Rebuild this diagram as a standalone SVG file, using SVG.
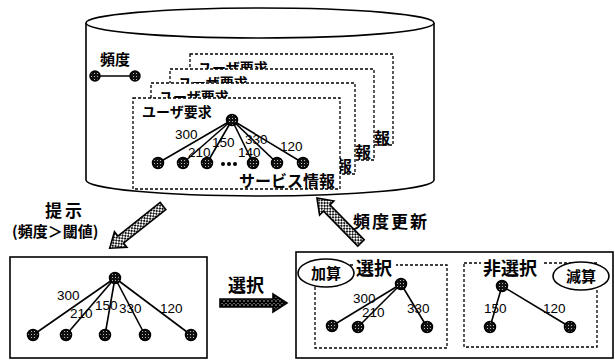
<svg xmlns="http://www.w3.org/2000/svg" width="615" height="360" viewBox="0 0 615 360">
<defs>
<pattern id="stip" width="3" height="3" patternUnits="userSpaceOnUse"><rect width="3" height="3" fill="#111"/><rect x="1" y="1" width="1" height="1" fill="#bbb"/></pattern>
<pattern id="hatch" width="4" height="4" patternUnits="userSpaceOnUse"><rect width="4" height="4" fill="#fff"/><path d="M0,0 L4,4 M4,0 L0,4" stroke="#000" stroke-width="0.9"/></pattern>
<pattern id="hatch2" width="4" height="4" patternUnits="userSpaceOnUse"><rect width="4" height="4" fill="#fff"/><path d="M0,0 L4,4 M4,0 L0,4" stroke="#000" stroke-width="1.6"/></pattern>
</defs>
<style>
.jp{font-family:"Noto Sans CJK JP","Noto Sans",sans-serif;font-weight:bold;fill:#000}
.num{font-family:"Liberation Sans",Arial,sans-serif;font-size:13.5px;fill:#000}
.dash{fill:#fff;stroke:#000;stroke-width:1.3;stroke-dasharray:3,2}
.solid{fill:#fff;stroke:#000;stroke-width:1.6}
.edge{stroke:#000;stroke-width:1.6;fill:none}
.node{fill:url(#stip);stroke:#000;stroke-width:1.5}
.arrow{stroke:#000;stroke-width:1.6;stroke-linejoin:miter}
</style>
<rect width="615" height="360" fill="#fff"/>

<g id="database">
<path d="M86,23 L86,180 A174,16 0 0 0 434,180 L434,23" class="solid" stroke-width="2"/>
<ellipse cx="260" cy="23" rx="174" ry="15" class="solid" stroke-width="2"/>
<text x="100" y="65" class="jp" font-size="15">頻度</text>
</g>

<g id="freq-legend">
<line x1="95" y1="76" x2="135" y2="76" class="edge"/>
<circle cx="95" cy="76" r="5" class="node"/>
<circle cx="135" cy="76" r="5" class="node"/>
</g>

<g id="service-info-1">
<rect x="190" y="54" width="203" height="91" class="dash"/>
<text x="198" y="73" class="jp" font-size="14">ユーザ要求</text>
<text x="390" y="144" class="jp" font-size="16" text-anchor="end">報</text>
</g>
<g id="service-info-2">
<rect x="170" y="69" width="204" height="91" class="dash"/>
<text x="178" y="88" class="jp" font-size="14">ユーザ要求</text>
<text x="371" y="158" class="jp" font-size="16" text-anchor="end">報</text>
</g>
<g id="service-info-3">
<rect x="151" y="83" width="204" height="91" class="dash"/>
<text x="159" y="102" class="jp" font-size="14">ユーザ要求</text>
<text x="352" y="172" class="jp" font-size="16" text-anchor="end">報</text>
</g>
<g id="service-info-4">
<rect x="133" y="98" width="207" height="91" class="dash"/>
<text x="142" y="117" class="jp" font-size="14">ユーザ要求</text>
<text x="335" y="187" class="jp" font-size="16" text-anchor="end">サービス情報</text>
<g id="tree-db">
<line x1="232" y1="120" x2="158" y2="163" class="edge"/>
<line x1="232" y1="120" x2="183" y2="163" class="edge"/>
<line x1="232" y1="120" x2="207" y2="163" class="edge"/>
<line x1="232" y1="120" x2="253" y2="163" class="edge"/>
<line x1="232" y1="120" x2="277" y2="163" class="edge"/>
<line x1="232" y1="120" x2="303" y2="163" class="edge"/>
<circle cx="232" cy="120" r="5.5" class="node"/>
<circle cx="158" cy="163" r="5.5" class="node"/>
<circle cx="183" cy="163" r="5.5" class="node"/>
<circle cx="207" cy="163" r="5.5" class="node"/>
<circle cx="253" cy="163" r="5.5" class="node"/>
<circle cx="277" cy="163" r="5.5" class="node"/>
<circle cx="303" cy="163" r="5.5" class="node"/>
<circle cx="223" cy="164" r="2" fill="#000"/>
<circle cx="229" cy="164" r="2" fill="#000"/>
<circle cx="235" cy="164" r="2" fill="#000"/>
<text x="175" y="139" class="num">300</text>
<text x="188" y="157" class="num">210</text>
<text x="212" y="147" class="num">150</text>
<text x="245" y="144" class="num">330</text>
<text x="238" y="157" class="num">140</text>
<text x="280" y="151" class="num">120</text>
</g>
</g>

<g id="connectors">
<polygon class="arrow" fill="url(#hatch)" points="0,-4.5 54,-4.5 54,-10 68,0 54,10 54,4.5 0,4.5" transform="translate(163,206) rotate(141.6)"/>
<polygon class="arrow" fill="url(#hatch2)" points="0,-4 53,-4 53,-9 67,0 53,9 53,4 0,4" transform="translate(220,303)"/>
<polygon class="arrow" fill="url(#hatch)" points="0,-4.5 49,-4.5 49,-10 63,0 49,10 49,4.5 0,4.5" transform="translate(361,243) rotate(-134.4)"/>
<text x="45" y="217" class="jp" font-size="17" letter-spacing="3">提示</text>
<text x="12" y="237" class="jp" font-size="15">(頻度＞閾値)</text>
<text x="228" y="292" class="jp" font-size="18">選択</text>
<text x="353" y="228" class="jp" font-size="17" letter-spacing="2">頻度更新</text>
</g>

<g id="presented">
<rect x="10" y="257" width="197" height="101" class="solid"/>
<line x1="115" y1="278" x2="33" y2="335" class="edge"/>
<line x1="115" y1="278" x2="66" y2="335" class="edge"/>
<line x1="115" y1="278" x2="105" y2="335" class="edge"/>
<line x1="115" y1="278" x2="145" y2="335" class="edge"/>
<line x1="115" y1="278" x2="191" y2="335" class="edge"/>
<circle cx="115" cy="278" r="5.5" class="node"/>
<circle cx="33" cy="335" r="5.5" class="node"/>
<circle cx="66" cy="335" r="5.5" class="node"/>
<circle cx="105" cy="335" r="5.5" class="node"/>
<circle cx="145" cy="335" r="5.5" class="node"/>
<circle cx="191" cy="335" r="5.5" class="node"/>
<text x="57" y="300" class="num">300</text>
<text x="70" y="318" class="num">210</text>
<text x="95" y="310" class="num">150</text>
<text x="119" y="313" class="num">330</text>
<text x="160" y="313" class="num">120</text>
</g>

<g id="result">
<rect x="296" y="252" width="317" height="106" class="solid"/>
<g id="selected">
<rect x="315" y="265" width="132" height="83" class="dash"/>
<rect x="354" y="256" width="42" height="20" fill="#fff"/>
<text x="356" y="275" class="jp" font-size="18">選択</text>
<line x1="401" y1="284" x2="332" y2="326" class="edge"/>
<line x1="401" y1="284" x2="358" y2="327" class="edge"/>
<line x1="401" y1="284" x2="427" y2="327" class="edge"/>
<circle cx="401" cy="284" r="5.5" class="node"/>
<circle cx="332" cy="326" r="5.5" class="node"/>
<circle cx="358" cy="327" r="5.5" class="node"/>
<circle cx="427" cy="327" r="5.5" class="node"/>
<text x="353" y="303" class="num">300</text>
<text x="362" y="317" class="num">210</text>
<text x="407" y="313" class="num">330</text>
</g>
<g id="add">
<ellipse cx="326" cy="273" rx="28" ry="14" class="solid"/>
<text x="326" y="279" class="jp" font-size="15" text-anchor="middle">加算</text>
</g>
<g id="unselected">
<rect x="464" y="263" width="133" height="84" class="dash"/>
<rect x="481" y="256" width="61" height="20" fill="#fff"/>
<text x="483" y="275" class="jp" font-size="18">非選択</text>
<line x1="502" y1="286" x2="490" y2="327" class="edge"/>
<line x1="502" y1="286" x2="570" y2="327" class="edge"/>
<circle cx="502" cy="286" r="5.5" class="node"/>
<circle cx="490" cy="327" r="5.5" class="node"/>
<circle cx="570" cy="327" r="5.5" class="node"/>
<text x="484" y="313" class="num">150</text>
<text x="543" y="313" class="num">120</text>
</g>
<g id="subtract">
<ellipse cx="581" cy="276" rx="28" ry="14" class="solid"/>
<text x="581" y="282" class="jp" font-size="15" text-anchor="middle">減算</text>
</g>
</g>
</svg>
